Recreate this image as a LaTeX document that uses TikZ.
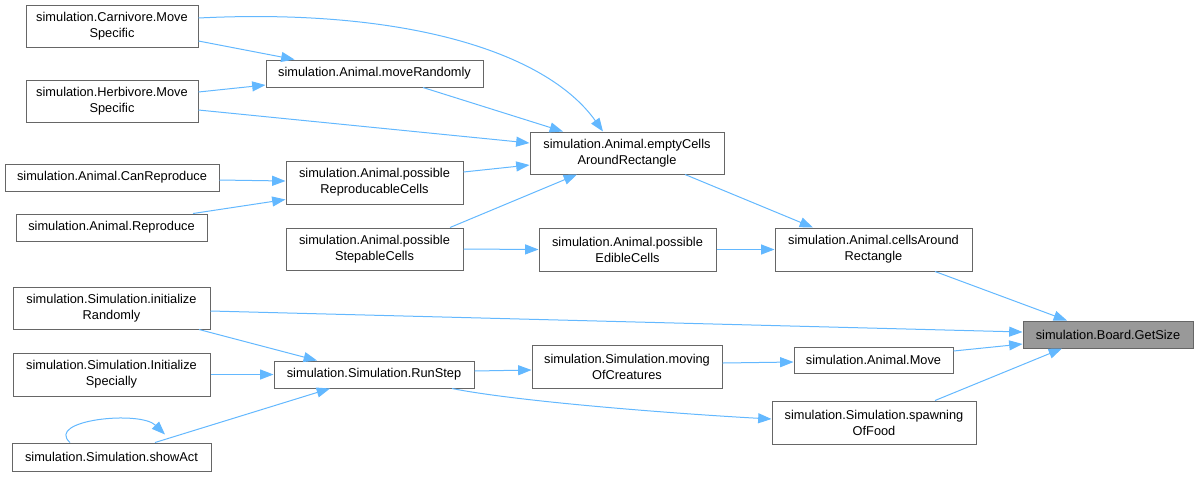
\documentclass[tikz,border=0pt]{standalone}
\usepackage{fontspec}
\setmainfont{Liberation Sans}
\usetikzlibrary{arrows.meta,calc}
\definecolor{edgeblue}{HTML}{63B8FF}
\definecolor{nodeborder}{HTML}{666666}
\definecolor{rootfill}{HTML}{999999}
\begin{document}
\begin{tikzpicture}[x=0.75pt,y=-0.75pt,
  box/.style 2 args={draw=nodeborder, fill=white, line width=0.75pt,
    minimum width=#1*0.75pt, minimum height=#2*0.75pt, inner sep=0pt,
    align=center, font=\fontsize{9.6pt}{12pt}\selectfont},
  rootbox/.style 2 args={box={#1}{#2}, fill=rootfill},
  link/.style={draw=edgeblue, line width=0.75pt, -{Triangle[length=10pt,width=7.5pt]}}]
\useasboundingbox (0,0) rectangle (1198,476);
% nodes
\node[box={172}{42}] (carn) at (112,26) {simulation.Carnivore.Move\\Specific};
\node[box={217}{27}] (moveR) at (374.5,73.5) {simulation.Animal.moveRandomly};
\node[box={172}{42}] (herb) at (112,101) {simulation.Herbivore.Move\\Specific};
\node[box={214}{27}] (canR) at (112,177.5) {simulation.Animal.CanReproduce};
\node[box={177}{43}] (posRep) at (374.5,182.5) {simulation.Animal.possible\\ReproducableCells};
\node[box={191}{27}] (repro) at (111.5,227.5) {simulation.Animal.Reproduce};
\node[box={177}{42}] (posStep) at (374.5,249) {simulation.Animal.possible\\StepableCells};
\node[box={194}{42}] (empty) at (627,153) {simulation.Animal.emptyCells\\AroundRectangle};
\node[box={177}{43}] (posEd) at (627.5,249.5) {simulation.Animal.possible\\EdibleCells};
\node[box={197}{43}] (cells) at (873.5,249.5) {simulation.Animal.cellsAround\\Rectangle};
\node[box={197}{42}] (initR) at (111.5,308) {simulation.Simulation.initialize\\Randomly};
\node[box={197}{43}] (initS) at (111.5,374.5) {simulation.Simulation.Initialize\\Specially};
\node[box={200}{27}] (runStep) at (374,374.5) {simulation.Simulation.RunStep};
\node[box={199}{28}] (showAct) at (111.5,457) {simulation.Simulation.showAct};
\node[box={190}{43}] (moving) at (627,366.5) {simulation.Simulation.moving\\OfCreatures};
\node[box={159}{26}] (move) at (873.5,360) {simulation.Animal.Move};
\node[box={204}{43}] (spawn) at (874,422.5) {simulation.Simulation.spawning\\OfFood};
\node[rootbox={170}{27}] (getSize) at (1108,334.5) {simulation.Board.GetSize};
% edges
\draw[link] ($(carn.east)+(0,15)$) -- ($(moveR.north)+(-80,0)$);
\draw[link] ($(carn.east)+(0,-8)$) .. controls (400,8) and (545,50) .. ($(empty.north)+(-24,0)$);
\draw[link] ($(herb.east)+(0,-9)$) -- ($(moveR.west)+(0,11.5)$);
\draw[link] ($(herb.east)+(0,9)$) -- ($(empty.west)+(0,-10)$);
\draw[link] ($(moveR.south)+(48.5,0)$) -- ($(empty.north)+(-64,0)$);
\draw[link] ($(canR.east)+(0,2.5)$) -- ($(posRep.west)+(0,-1.5)$);
\draw[link] ($(repro.north)+(81.5,0)$) -- ($(posRep.west)+(0,17)$);
\draw[link] ($(posRep.east)+(0,-10.5)$) -- ($(empty.west)+(0,12)$);
\draw[link] ($(posStep.north)+(75.5,0)$) -- ($(empty.south)+(-50,0)$);
\draw[link] (posStep.east) -- (posEd.west);
\draw[link] (posEd.east) -- (cells.west);
\draw[link] ($(empty.south)+(58,0)$) -- ($(cells.north)+(-60.5,0)$);
\draw[link] ($(cells.south)+(61.5,0)$) -- ($(getSize.north)+(-41,0)$);
\draw[link] ($(initR.east)+(0,3)$) -- ($(getSize.west)+(0,-2.5)$);
\draw[link] ($(initR.south)+(87.5,0)$) -- ($(runStep.north)+(-57,0)$);
\draw[link] (initS.east) -- (runStep.west);
\draw[link] ($(showAct.north)+(43.5,0)$) -- ($(runStep.south)+(-44,0)$);
\draw[link] ($(showAct.north)+(-41.5,0)$) .. controls (45,420) and (140,410) .. ($(showAct.north)+(53.5,-8)$);
\draw[link] ($(runStep.east)+(0,-3.5)$) -- ($(moving.west)+(0,3.5)$);
\draw[link] ($(runStep.south)+(78,0)$) .. controls (520,402) and (680,414) .. ($(spawn.west)+(0,-3.5)$);
\draw[link] ($(moving.east)+(0,-3.5)$) -- ($(move.west)+(0,2)$);
\draw[link] ($(move.east)+(0,-9)$) -- ($(getSize.west)+(0,9.5)$);
\draw[link] ($(spawn.north)+(61,0)$) -- ($(getSize.south)+(-46,0)$);
\end{tikzpicture}
\end{document}
